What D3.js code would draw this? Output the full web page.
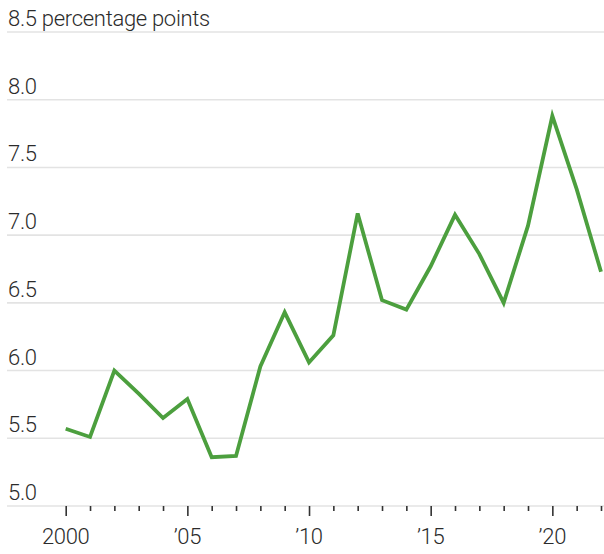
<!DOCTYPE html>
<html lang="en">
<head>
    <meta charset="utf-8">
    <title>Percentage points</title>
    <script src="https://d3js.org/d3.v7.min.js" charset="utf-8"></script>
    <style>
        body { margin: 0; background: #fff; }
        text { font-family: "Roboto", sans-serif; font-weight: 300; fill: #2b2b2b; letter-spacing: -0.3px; }
    </style>
</head>
<body>
<script>

var years = d3.range(2000, 2023)
var values = [5.57, 5.51, 6.00, 5.83, 5.65, 5.79, 5.36, 5.37, 6.03, 6.43, 6.06, 6.26,
              7.16, 6.52, 6.45, 6.77, 7.15, 6.86, 6.50, 7.07, 7.88, 7.34, 6.73]
var yTicks = [5.0, 5.5, 6.0, 6.5, 7.0, 7.5, 8.0, 8.5]
var xMajor = [2000, 2005, 2010, 2015, 2020]
var xLabels = ["2000", "\u201905", "\u201910", "\u201915", "\u201920"]
var unitLabel = "percentage points"

var w = 604, h = 554

var x = d3.scaleLinear().domain([2000, 2022]).range([65.7, 601])
var y = d3.scaleLinear().domain([5, 8.5]).range([506, 32])

var svg = d3.select("body").append("svg").attr("width", w).attr("height", h)

// gridlines + labels
var grid = svg.append("g")
grid.selectAll("line").data(yTicks).enter().append("line")
    .attr("x1", 7).attr("x2", w)
    .attr("y1", function(d) { return y(d) }).attr("y2", function(d) { return y(d) })
    .attr("stroke", "#e3e3e3").attr("stroke-width", 1.6)

grid.selectAll("text").data(yTicks).enter().append("text")
    .attr("x", 8).attr("y", function(d) { return y(d) - 6 })
    .attr("font-size", 22)
    .text(function(d) { return d === 8.5 ? d.toFixed(1) + " " + unitLabel : d.toFixed(1) })

// x axis ticks
var xAxis = d3.axisBottom(x)
    .tickValues(years)
    .tickSize(0)
    .tickFormat("")
var ax = svg.append("g").attr("transform", "translate(0," + y(5) + ")").call(xAxis)
ax.select(".domain").remove()
ax.selectAll(".tick line")
    .attr("y2", function(d) { return xMajor.indexOf(d) >= 0 ? 10 : 5 })
    .attr("stroke", "#333").attr("stroke-width", 1.6)

svg.append("g").selectAll("text").data(xMajor).enter().append("text")
    .attr("x", function(d) { return x(d) })
    .attr("y", 544)
    .attr("text-anchor", "middle")
    .attr("font-size", 22)
    .text(function(d, i) { return xLabels[i] })

// data line
var line = d3.line()
    .x(function(d, i) { return x(years[i]) })
    .y(function(d) { return y(d) })

svg.append("path").datum(values)
    .attr("d", line)
    .attr("fill", "none")
    .attr("stroke", "#4c9f3e")
    .attr("stroke-width", 3.8)
    .attr("stroke-linejoin", "miter")

</script>
</body>
</html>
